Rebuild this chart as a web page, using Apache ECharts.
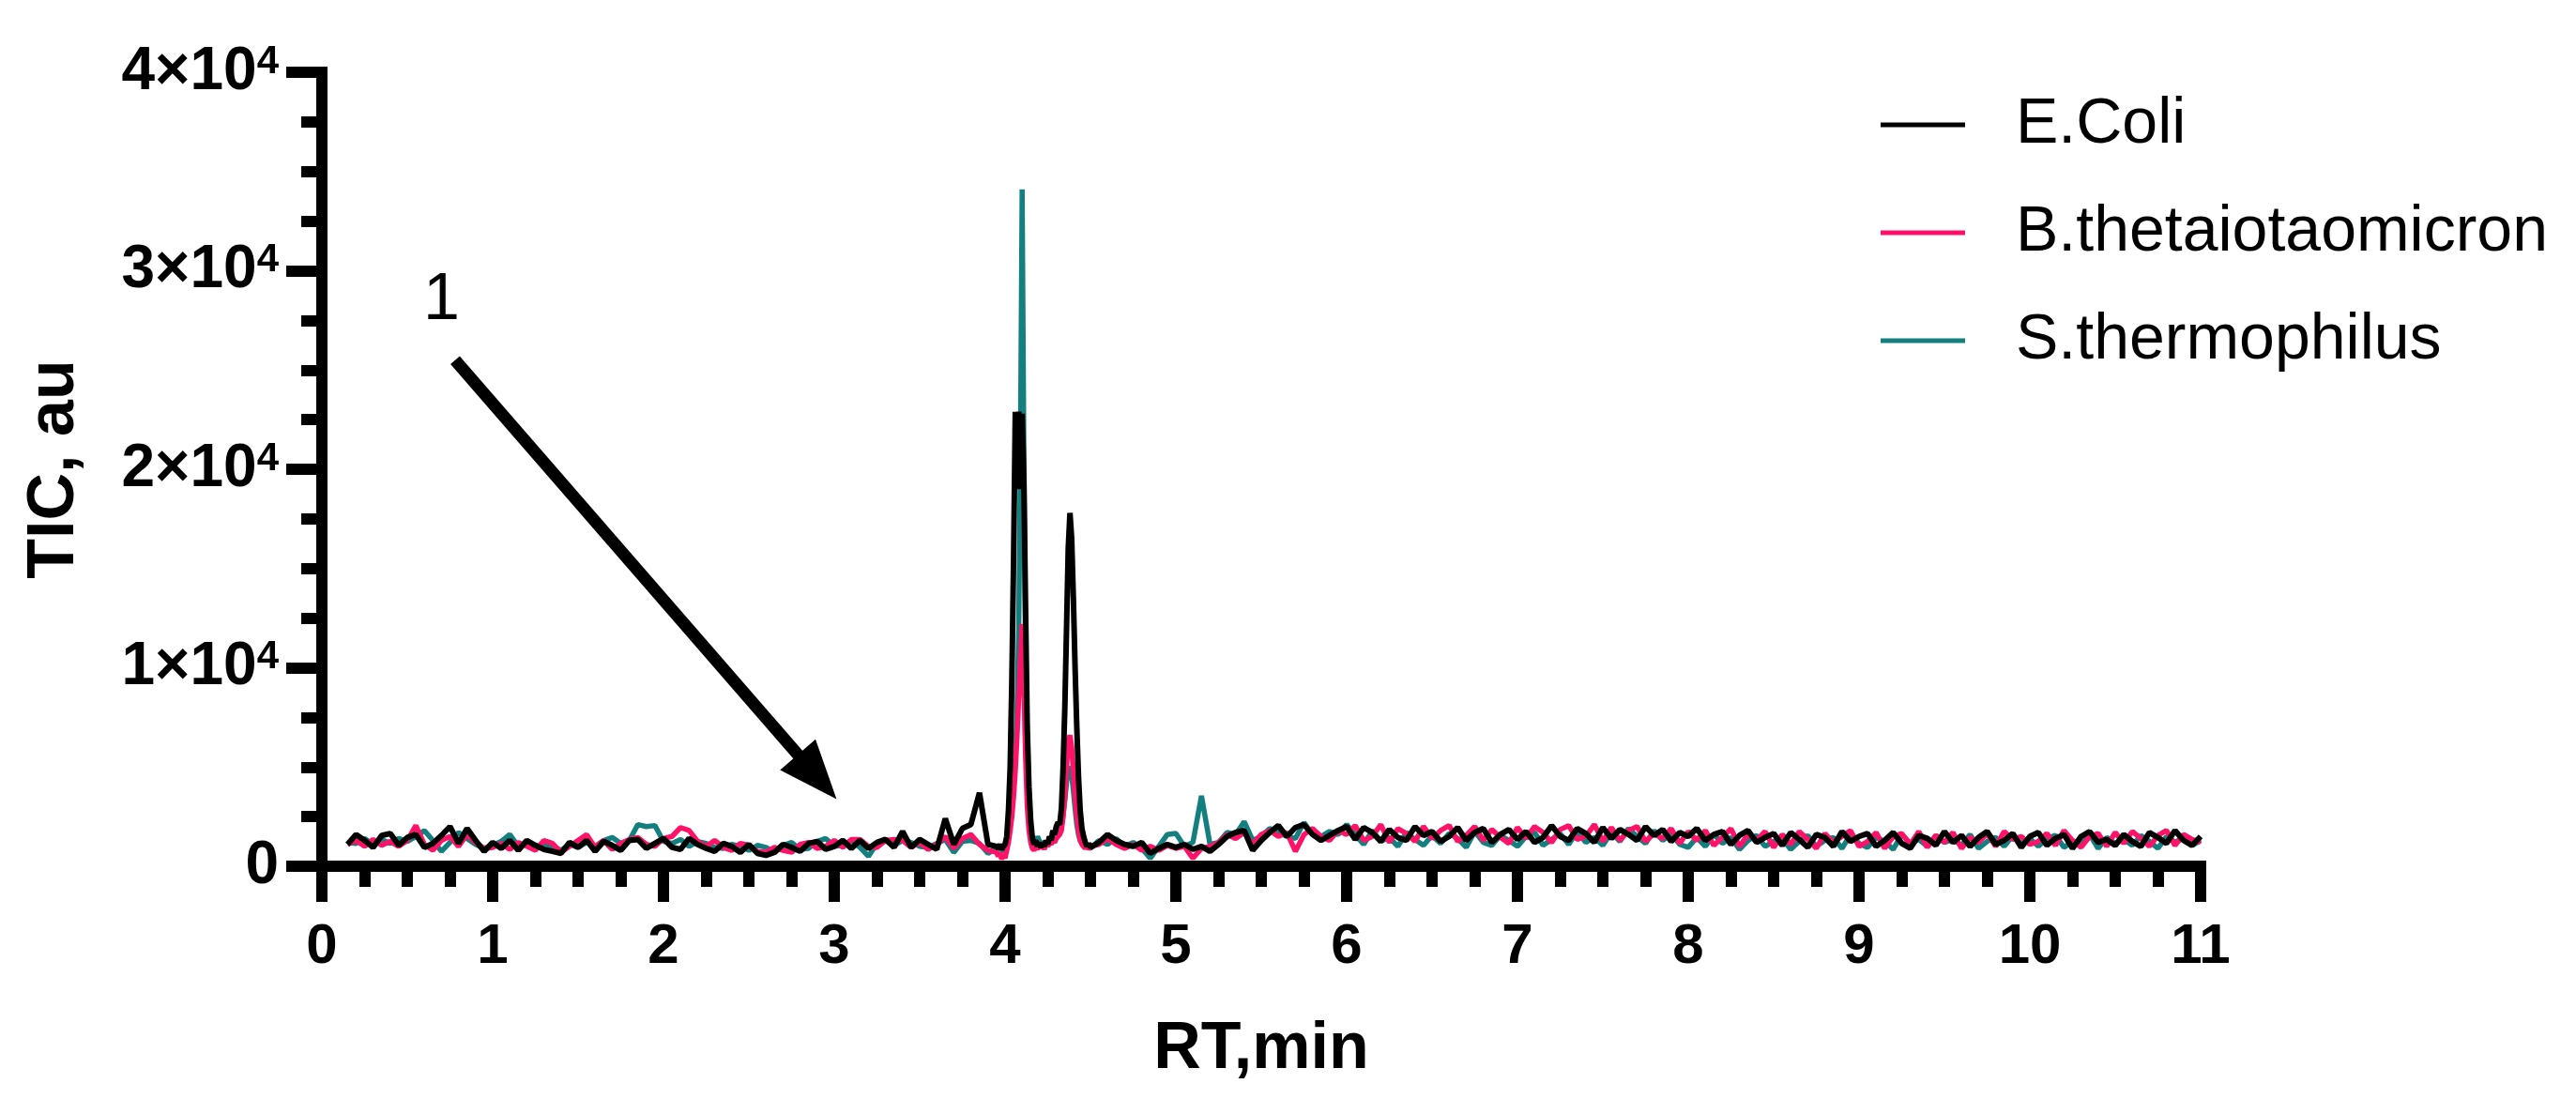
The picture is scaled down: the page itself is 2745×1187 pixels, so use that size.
<!DOCTYPE html>
<html>
<head>
<meta charset="utf-8">
<script src="https://cdn.jsdelivr.net/npm/echarts@6/dist/echarts.min.js"></script>
<style>
html,body{margin:0;padding:0;background:#fff;}
#chart{width:2745px;height:1187px;}
</style>
</head>
<body>
<div id="chart"></div>
<script>
// Retention time (min)
const RT = [
0.15,0.20,0.25,0.30,0.35,0.40,0.45,0.50,0.55,0.60,
0.65,0.70,0.75,0.80,0.85,0.90,0.95,1.00,1.05,1.10,
1.15,1.20,1.25,1.30,1.35,1.40,1.45,1.50,1.55,1.60,
1.65,1.70,1.75,1.80,1.85,1.90,1.95,2.00,2.05,2.10,
2.15,2.20,2.25,2.30,2.35,2.40,2.45,2.50,2.55,2.60,
2.65,2.70,2.75,2.80,2.85,2.90,2.95,3.00,3.05,3.10,
3.15,3.20,3.25,3.30,3.35,3.40,3.45,3.50,3.55,3.60,
3.65,3.70,3.75,3.80,3.85,3.90,3.95,
3.96,3.97,3.98,3.99,4.00,4.01,4.02,4.03,4.04,4.05,
4.06,4.07,4.08,4.09,4.10,4.11,4.12,4.13,4.14,4.15,
4.16,4.17,4.18,4.19,4.20,4.21,4.22,4.23,4.24,4.25,
4.26,4.27,4.28,4.29,4.30,4.31,4.32,4.33,4.34,4.35,
4.36,4.37,4.38,4.39,4.40,4.41,4.42,4.43,4.44,4.45,
4.46,4.47,4.48,4.49,4.50,
4.55,4.60,4.65,4.70,4.75,4.80,4.85,4.90,4.95,5.00,
5.05,5.10,5.15,5.20,5.25,5.30,5.35,5.40,5.45,5.50,
5.55,5.60,5.65,5.70,5.75,5.80,5.85,5.90,5.95,6.00,
6.05,6.10,6.15,6.20,6.25,6.30,6.35,6.40,6.45,6.50,
6.55,6.60,6.65,6.70,6.75,6.80,6.85,6.90,6.95,7.00,
7.05,7.10,7.15,7.20,7.25,7.30,7.35,7.40,7.45,7.50,
7.55,7.60,7.65,7.70,7.75,7.80,7.85,7.90,7.95,8.00,
8.05,8.10,8.15,8.20,8.25,8.30,8.35,8.40,8.45,8.50,
8.55,8.60,8.65,8.70,8.75,8.80,8.85,8.90,8.95,9.00,
9.05,9.10,9.15,9.20,9.25,9.30,9.35,9.40,9.45,9.50,
9.55,9.60,9.65,9.70,9.75,9.80,9.85,9.90,9.95,10.00,
10.05,10.10,10.15,10.20,10.25,10.30,10.35,10.40,10.45,10.50,
10.55,10.60,10.65,10.70,10.75,10.80,10.85,10.90,10.95,11.00
];

// TIC, E.Coli
const eColi = [
1100,1600,1300,950,1550,1650,1050,1450,1600,950,
1150,1550,2000,1150,1900,1300,750,1200,900,1300,
800,1300,1050,850,750,650,1200,950,1300,750,
1250,1050,800,1300,1350,900,1150,1400,950,850,
1400,1100,900,750,1150,1000,700,1100,650,550,
700,1100,950,750,1150,1250,850,1000,1300,900,
1300,900,1200,1350,950,1750,950,1350,1100,850,
2400,1100,1900,2100,3700,1100,1000,
900,1100,850,1000,1100,1500,2800,5000,9500,15500,
22900,19000,22900,19000,22800,19500,13000,7000,4000,2300,
1400,1100,1300,1000,1200,950,1150,1000,1300,1100,
1500,1300,1800,1600,2000,2200,2100,2900,5000,8000,
12000,16000,17800,16500,13500,10000,7000,4500,2800,1900,
1500,1200,1000,1150,950,
1200,1600,1300,1100,1000,1200,650,900,1100,950,
1100,850,1000,750,1100,1500,1700,1800,800,1300,
1700,2050,1500,1950,2100,1600,1300,1550,1800,2000,
1350,1950,1700,1250,1850,1450,1300,2000,1550,1750,
1250,1500,1950,1300,1700,1900,1200,1600,1850,1350,
1750,1200,1450,2050,1500,1300,1900,1650,1200,1950,
1400,1850,1600,1300,2000,1550,1850,1250,1700,1500,
1900,1300,1600,1750,1100,1550,1800,1200,1450,1650,
1050,1700,1350,950,1600,1450,1000,1750,1250,1500,
1650,1000,1300,1700,1150,900,1550,1400,1050,1750,
1200,1550,1000,1450,1750,1100,1300,1650,950,1500,
1700,1050,1400,1600,900,1500,1750,1200,1350,1050,
1600,1250,1000,1700,1450,1150,1800,1300,1050,1500
];

// TIC, B.thetaiotaomicron
const bTheta = [
1100,1300,1000,1350,1050,1250,1000,1300,2050,1100,
800,1300,1500,1000,1600,1200,900,950,1150,850,
1200,1000,800,1300,1150,700,1000,1300,1600,950,
1300,850,1150,1350,1450,1100,1000,1400,1500,1950,
1800,1250,1000,1300,950,800,1150,1050,750,700,
950,800,700,1100,1200,900,1000,1300,950,1350,
1350,1000,950,1300,1350,1300,950,1200,850,1100,
1500,900,1400,1600,1100,800,700,
500,700,350,600,400,800,1200,1800,2500,3500,
4800,6500,8500,10500,12200,9000,5500,3000,1800,1200,
900,800,1000,850,1100,900,1050,850,1150,1000,
1200,1100,1300,1200,1400,1500,1600,1800,2500,3500,
5000,6300,6600,6000,4800,3500,2500,1800,1300,1100,
1000,900,1050,850,1000,
1100,1400,1100,900,1100,800,1000,800,1050,900,
1000,400,900,1000,1200,1600,1400,1700,1100,1600,
1800,1500,1700,750,1600,1900,1500,1300,1800,1600,
2050,1300,1500,2100,1200,1900,1650,1250,2000,1400,
1800,2050,1250,1550,2000,1300,1850,1450,1150,1950,
1400,2000,1700,1200,1850,2050,1350,1500,2100,1250,
1950,1300,1800,2000,1250,1650,1400,1900,1150,1750,
1300,1800,1050,1450,1900,1000,1600,1300,1750,950,
1600,1100,1750,1350,900,1650,1200,1500,1800,1000,
1250,1700,900,1500,1650,1100,1750,950,1550,1200,
1700,900,1450,1200,1650,1000,1750,1350,1500,1100,
1250,1650,1050,1800,1300,950,1500,1650,1000,1700,
1150,1750,1400,1000,1550,1800,1050,1600,1350,1200
];

// TIC, S.thermophilus
const sThermo = [
1200,1150,1400,1100,1350,1150,1400,1250,1500,1800,
1300,750,1200,1700,1400,1100,900,1050,1250,1600,
1000,1200,950,1150,1000,800,1100,950,1200,1000,
1300,1450,1150,1300,2100,2000,2050,1250,1150,1350,
1000,1250,1150,950,900,1100,1000,800,1050,950,
700,1050,1200,850,900,1250,1400,1000,1050,1300,
950,500,1150,1350,1050,1300,1200,1000,950,1150,
1350,700,1250,1300,1150,650,900,
1000,800,950,700,900,1100,1500,2200,3000,4000,
5500,8000,12000,21000,34100,21000,10000,4500,2200,1400,
1100,1000,1200,1500,1300,1100,1250,1050,1200,1000,
1300,1150,1400,1300,1550,1700,1800,2000,2600,3300,
4200,4900,5000,4600,3800,2900,2100,1600,1300,1150,
1000,1100,950,1050,900,
1300,1100,1400,1000,1200,900,400,1000,1600,1650,
1000,1200,3550,1100,1200,1700,1600,2250,1300,1500,
1900,1700,1500,1400,2200,1600,1500,1750,1600,2100,
1600,1100,1800,1250,1450,1000,1700,1350,1050,1550,
1150,1650,1400,950,1750,1200,1050,1550,1300,1000,
1500,1700,1050,1350,1650,1100,1750,1200,1450,1050,
1700,1250,1900,1500,1150,1800,1300,1650,1100,950,
1450,1000,1600,1150,1450,850,1300,1550,1000,1250,
1400,850,1250,1550,1000,1300,1450,900,1600,1150,
950,1450,1250,850,1600,1150,1350,1000,1550,1200,
1350,1050,1600,900,1250,1450,1000,1550,1150,1400,
1000,1400,1550,950,1250,1100,1600,900,1450,1150,
1350,1050,1550,1250,900,1500,1200,1450,1050,1300
];

const seriesNames = ['E.Coli', 'B.thetaiotaomicron', 'S.thermophilus'];
const yTickExponent = 4;

// Annotation "1" arrow (data coordinates)
const arrowStart = [0.78, 25500];
const arrowEnd = [2.90, 4500];
const annotationLabelPos = [0.70, 28500];

const FONT = '"Liberation Sans", Arial, Helvetica, sans-serif';
const zip = (ys) => RT.map((x, i) => [x, ys[i]]);

const chart = echarts.init(document.getElementById('chart'));

const axisCommon = {
  axisLine: { show: true, lineStyle: { color: '#000', width: 12, cap: 'square' } },
  axisTick: { show: true, length: 38, lineStyle: { color: '#000', width: 12 } },
  minorTick: { show: true, splitNumber: 4, length: 22, lineStyle: { color: '#000', width: 12 } },
  splitLine: { show: false },
  minorSplitLine: { show: false }
};

chart.setOption({
  animation: false,
  backgroundColor: '#fff',
  grid: { left: 343, right: 400, top: 77, bottom: 264, containLabel: false },
  legend: {
    data: seriesNames,
    orient: 'vertical',
    left: 2004,
    top: 98,
    padding: 0,
    itemWidth: 90,
    itemHeight: 5,
    itemGap: 45,
    icon: 'rect',
    selectedMode: false,
    textStyle: { fontFamily: FONT, fontSize: 68, color: '#000', lineHeight: 70, padding: [0, 0, 0, 49] }
  },
  xAxis: Object.assign({
    type: 'value',
    min: 0,
    max: 11,
    interval: 1,
    name: 'RT,min',
    nameLocation: 'middle',
    nameGap: 161,
    nameTextStyle: { fontFamily: FONT, fontSize: 70, fontWeight: 'bold', color: '#000' },
    axisLabel: {
      margin: 56,
      formatter: (v) => '{b|' + v + '}',
      rich: { b: { fontFamily: FONT, fontSize: 60, fontWeight: 'bold', color: '#000', lineHeight: 60 } }
    }
  }, axisCommon),
  yAxis: Object.assign({
    type: 'value',
    min: 0,
    max: 40000,
    interval: 10000,
    name: 'TIC, au',
    nameLocation: 'middle',
    nameRotate: 90,
    nameGap: 249,
    nameTextStyle: { fontFamily: FONT, fontSize: 70, fontWeight: 'bold', color: '#000' },
    axisLabel: {
      margin: 46,
      formatter: (v) => v === 0 ? '{b|0}' : '{b|' + (v / Math.pow(10, yTickExponent)) + '×10}{s|' + yTickExponent + '}',
      rich: {
        b: { fontFamily: FONT, fontSize: 64, fontWeight: 'bold', color: '#000', lineHeight: 64 },
        s: { fontFamily: FONT, fontSize: 42, fontWeight: 'bold', color: '#000', lineHeight: 42, verticalAlign: 'top' }
      }
    }
  }, axisCommon),
  series: [
    {
      name: seriesNames[2], type: 'line', data: zip(sThermo), color: '#137f7f',
      symbol: 'none', lineStyle: { width: 5.5, color: '#137f7f' }, z: 2, silent: true
    },
    {
      name: seriesNames[1], type: 'line', data: zip(bTheta), color: '#ff1268',
      symbol: 'none', lineStyle: { width: 5.5, color: '#ff1268' }, z: 3, silent: true
    },
    {
      name: seriesNames[0], type: 'line', data: zip(eColi), color: '#000',
      symbol: 'none', lineStyle: { width: 6, color: '#000' }, z: 4, silent: true,
      markLine: {
        silent: true,
        symbol: ['none', 'triangle'],
        symbolSize: 60,
        label: { show: false },
        lineStyle: { color: '#000', width: 13, type: 'solid' },
        itemStyle: { color: '#000' },
        emphasis: { disabled: true },
        data: [[
          { coord: arrowStart, symbol: 'none' },
          { coord: arrowEnd, symbol: 'triangle', symbolSize: [50, 63] }
        ]]
      },
      markPoint: {
        silent: true,
        symbol: 'circle',
        symbolSize: 1,
        itemStyle: { color: 'rgba(0,0,0,0)' },
        label: { show: true, position: 'inside', formatter: '1', fontFamily: FONT, fontSize: 70, color: '#000' },
        data: [{ coord: annotationLabelPos }]
      }
    }
  ]
});
</script>
</body>
</html>
